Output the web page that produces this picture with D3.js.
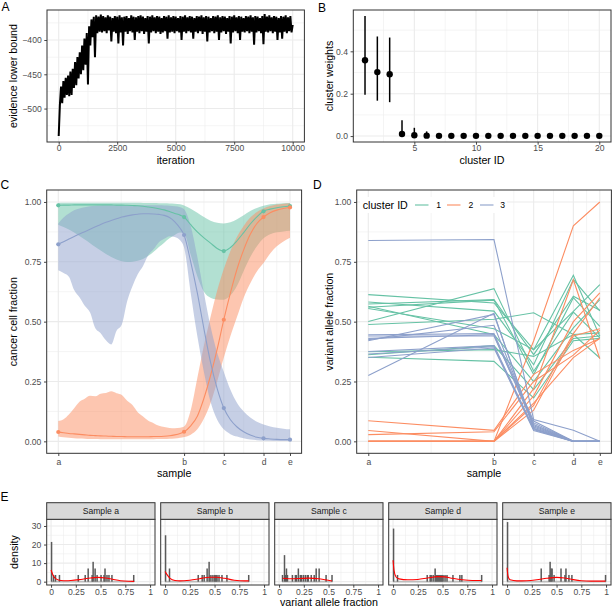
<!DOCTYPE html>
<html lang="en">
<head>
<meta charset="UTF-8">
<title>Clonal evolution model</title>
<style>
  body { margin: 0; background: #fff; }
</style>
</head>
<body>
<div id="fig"></div>
<script src="https://d3js.org/d3.v7.min.js"></script>
<script>
// ---------------- data ----------------
// A: evidence lower bound, one value every 50 iterations
var elboStep = 50;
var elbo = [-540,-495,-468,-492,-460,-484,-455,-480,-452,-482,-446,-480,-442,-470,-432,-466,-425,-456,-418,-450,
  -408,-444,-398,-436,-390,-465,-380,-408,-370,-396,-366,-425,-364,-390,-366,-388,-363,-389,-365,-387,
  -367,-390,-364,-386,-366,-402,-368,-388,-365,-390,-366,-405,-364,-389,-367,-408,-366,-388,-365,-391,
  -368,-387,-364,-389,-366,-400,-367,-388,-365,-390,-364,-387,-366,-391,-368,-388,-365,-405,-366,-389,
  -364,-387,-367,-390,-365,-388,-366,-391,-368,-389,-365,-387,-366,-398,-364,-389,-367,-388,-365,-390,
  -366,-387,-368,-389,-365,-400,-366,-388,-364,-390,-367,-387,-365,-389,-366,-398,-368,-388,-365,-390,
  -366,-387,-364,-391,-367,-388,-365,-402,-366,-389,-368,-387,-365,-390,-366,-388,-364,-400,-367,-389,
  -365,-387,-366,-391,-368,-388,-365,-405,-366,-389,-364,-387,-367,-390,-365,-400,-366,-388,-368,-389,
  -365,-387,-366,-390,-364,-388,-367,-407,-365,-389,-366,-387,-368,-390,-365,-406,-362,-388,-366,-389,
  -364,-387,-367,-390,-365,-388,-366,-400,-368,-389,-365,-398,-366,-388,-364,-390,-367,-387,-365,-389,-378];

// B: cluster weights
var clusterIds = [1,2,3,4,5,6,7,8,9,10,11,12,13,14,15,16,17,18,19,20];
var weightMean = [0.358,0.302,0.292,0.010,0.004,0.002,0.001,0.001,0.001,0.001,0.001,0.001,0.001,0.001,0.001,0.001,0.001,0.001,0.001,0.001];
var weightLo   = [0.195,0.167,0.160,0.000,0.000,0.000,0.000,0.000,0.000,0.000,0.000,0.000,0.000,0.000,0.000,0.000,0.000,0.000,0.000,0.000];
var weightHi   = [0.567,0.470,0.465,0.075,0.039,0.022,0.006,0.005,0.005,0.005,0.005,0.005,0.005,0.005,0.005,0.005,0.005,0.005,0.005,0.005];

// C / D: samples
var sampleNames = ["a","b","c","d","e"];
var sampleTimes = [0,95,125,155,175];
var clusterColors = ["#66C2A5","#FC8D62","#8DA0CB"];

var cfGrid = [0,4,8,12,16,20,24,28,32,36,40,44,48,52,56,60,64,68,72,76,80,84,88,92,95,100,105,110,115,120,125,130,135,140,145,150,155,160,165,170,175];
var cfMean1 = [.986,.987,.987,.988,.988,.988,.988,.988,.988,.988,.988,.987,.987,.986,.985,.984,.982,.979,.976,.972,.967,.960,.952,.945,.937,.905,.875,.850,.828,.806,.795,.810,.838,.872,.908,.938,.961,.970,.976,.980,.983];
var cfHi1   = [.996,.997,.997,.997,.997,.997,.997,.997,.997,.997,.997,.997,.997,.997,.997,.997,.996,.996,.996,.995,.995,.994,.993,.990,.985,.972,.955,.937,.922,.913,.910,.915,.928,.945,.962,.975,.984,.990,.993,.995,.996];
var cfLo1   = [.905,.895,.885,.872,.858,.843,.828,.812,.797,.783,.770,.760,.752,.749,.750,.754,.762,.775,.792,.812,.830,.848,.862,.872,.868,.780,.690,.625,.600,.593,.592,.610,.650,.712,.770,.815,.848,.865,.873,.877,.880];
var cfMean2 = [.039,.036,.033,.031,.029,.027,.025,.024,.023,.022,.021,.020,.020,.019,.019,.019,.019,.019,.020,.020,.021,.023,.027,.033,.040,.065,.105,.180,.275,.385,.508,.620,.720,.800,.865,.910,.937,.955,.966,.973,.977];
var cfHi2   = [.085,.092,.112,.138,.165,.178,.190,.188,.199,.202,.209,.201,.194,.170,.152,.122,.104,.086,.076,.065,.060,.056,.055,.057,.062,.130,.265,.400,.520,.630,.720,.795,.855,.900,.935,.958,.973,.983,.989,.993,.995];
var cfLo2   = [.020,.017,.015,.013,.012,.011,.010,.010,.009,.009,.009,.009,.009,.009,.009,.009,.009,.009,.009,.010,.010,.011,.012,.015,.018,.028,.050,.095,.160,.250,.350,.440,.520,.600,.660,.710,.745,.785,.815,.835,.850];
var cfMean3 = [.823,.834,.845,.856,.866,.876,.886,.896,.906,.915,.923,.930,.937,.942,.946,.949,.951,.951,.950,.948,.944,.935,.917,.890,.862,.750,.620,.470,.330,.220,.139,.090,.060,.040,.026,.017,.0125,.010,.008,.007,.007];
var cfHi3   = [.910,.935,.952,.965,.973,.978,.982,.984,.985,.986,.986,.986,.986,.986,.986,.986,.986,.986,.986,.986,.985,.984,.982,.978,.970,.900,.770,.620,.480,.370,.290,.215,.160,.125,.100,.082,.070,.062,.057,.053,.050];
var cfLo3   = [.715,.703,.688,.632,.602,.566,.538,.472,.452,.422,.405,.462,.488,.585,.648,.698,.733,.778,.803,.832,.846,.857,.854,.840,.810,.620,.440,.290,.165,.090,.050,.030,.020,.013,.008,.005,.003,.002,.001,.001,.001];
var cfPts1 = [.986,.937,.795,.961,.983];
var cfPts2 = [.039,.040,.508,.937,.977];
var cfPts3 = [.823,.862,.139,.0125,.007];

// D: variant allele fraction per mutation (samples a..e)
var vaf1 = [
  [.613,.578,.383,.543,.655],
  [.582,.544,.320,.676,.545],
  [.574,.592,.362,.606,.548],
  [.564,.446,.250,.474,.592],
  [.555,.470,.383,.694,.439],
  [.501,.638,.293,.540,.432],
  [.488,.510,.537,.446,.348],
  [.374,.383,.355,.446,.453],
  [.362,.400,.216,.430,.440],
  [.351,.334,.181,.420,.430],
  [.560,.590,.279,.600,.480]
];
var vaf2 = [
  [.086,.046,.280,.380,.430],
  [.045,.000,.420,.900,1.00],
  [.028,.040,.250,.360,.465],
  [.000,.000,.220,.675,.345],
  [.000,.000,.190,.500,.620],
  [.000,.000,.150,.450,.600],
  [.000,.000,.130,.440,.470],
  [.000,.000,.160,.350,.430]
];
var vaf3 = [
  [.839,.843,.091,.046,.000],
  [.445,.450,.085,.000,.000],
  [.440,.440,.077,.000,.000],
  [.425,.485,.070,.000,.000],
  [.420,.530,.060,.000,.000],
  [.375,.400,.055,.000,.000],
  [.365,.395,.049,.000,.000],
  [.350,.390,.045,.000,.000],
  [.275,.535,.052,.000,.000],
  [.430,.445,.065,.000,.000]
];

// E: VAF histograms [bin centre, density] and fitted density [vaf, density]
var facetLabels = ["Sample a","Sample b","Sample c","Sample d","Sample e"];
var histA = [[.005,21.4],[.025,3.6],[.045,3.6],[.085,3.6],[.275,3.6],[.345,3.6],[.375,7.1],[.415,3.6],[.425,10.7],[.445,7.1],[.465,3.6],[.505,3.6],[.535,3.6],[.545,7.1],[.565,3.6],[.585,3.6],[.615,3.6],[.835,3.6]];
var histB = [[.005,25.0],[.045,7.1],[.335,3.6],[.375,3.6],[.395,3.6],[.425,7.1],[.445,10.7],[.455,3.6],[.475,3.6],[.495,3.6],[.505,3.6],[.515,3.6],[.525,3.6],[.545,3.6],[.575,3.6],[.625,3.6],[.845,3.6]];
var histC = [[.035,3.6],[.055,14.3],[.065,3.6],[.075,7.1],[.085,3.6],[.135,3.6],[.165,3.6],[.175,3.6],[.195,7.1],[.215,3.6],[.225,3.6],[.245,3.6],[.265,3.6],[.285,3.6],[.295,3.6],[.325,3.6],[.355,3.6],[.375,7.1],[.405,7.1],[.475,3.6],[.535,3.6]];
var histD = [[.005,28.6],[.045,3.6],[.345,3.6],[.375,3.6],[.385,3.6],[.405,3.6],[.425,7.1],[.435,3.6],[.445,3.6],[.455,3.6],[.465,3.6],[.475,3.6],[.485,3.6],[.495,3.6],[.505,3.6],[.525,3.6],[.545,3.6],[.605,3.6],[.675,3.6],[.695,3.6],[.895,3.6]];
var histE = [[.005,32.1],[.345,7.1],[.425,3.6],[.435,10.7],[.445,7.1],[.455,7.1],[.475,3.6],[.545,7.1],[.585,3.6],[.595,7.1],[.625,3.6],[.655,3.6],[.995,3.6]];
var densA = [[0,6.3],[.02,3.5],[.05,1.5],[.1,.6],[.15,.5],[.2,.6],[.3,1.2],[.4,2.0],[.47,2.3],[.55,2.0],[.62,1.3],[.7,.5],[.78,.2],[.84,.15]];
var densB = [[0,5.5],[.02,3.8],[.05,1.8],[.1,.6],[.15,.4],[.25,.8],[.35,1.6],[.45,2.4],[.52,2.4],[.6,1.8],[.7,.8],[.8,.4],[.845,.4]];
var densC = [[.035,1.8],[.1,1.6],[.2,1.7],[.3,1.9],[.4,1.6],[.47,1.0],[.535,.4]];
var densD = [[0,11.5],[.01,6.0],[.03,2.5],[.06,1.5],[.15,1.0],[.25,1.2],[.35,2.0],[.45,2.7],[.52,2.6],[.6,1.8],[.7,1.0],[.8,.6],[.895,.6]];
var densE = [[0,7.5],[.01,3.0],[.03,1.0],[.1,.4],[.2,.5],[.3,1.0],[.4,1.8],[.5,2.3],[.58,2.0],[.65,1.3],[.75,.5],[.85,.3],[.95,.3],[.995,.3]];

// ---------------- helpers ----------------
var FONT = '"Liberation Sans", Arial, Helvetica, sans-serif';
var GRID = "#ebebeb", INK = "#333333", TICKTXT = "#4d4d4d";
var TICK_FS = 8.6, TITLE_FS = 10.7;

var svg = d3.select("#fig").append("svg")
  .attr("width", 612).attr("height", 609)
  .style("font-family", FONT);

function frame(x, y, xMaj, xMin, yMaj, yMin) {
  var g = svg.append("g");
  var x0 = x.range()[0], x1 = x.range()[1], y0 = y.range()[1], y1 = y.range()[0];
  g.append("rect").attr("x", x0).attr("y", y0)
    .attr("width", x1 - x0).attr("height", y1 - y0).attr("fill", "#fff");
  function vl(vals, w) {
    g.selectAll(null).data(vals).enter().append("line")
      .attr("x1", function(d) { return x(d); }).attr("x2", function(d) { return x(d); })
      .attr("y1", y0).attr("y2", y1).attr("stroke", GRID).attr("stroke-width", w);
  }
  function hl(vals, w) {
    g.selectAll(null).data(vals).enter().append("line")
      .attr("y1", function(d) { return y(d); }).attr("y2", function(d) { return y(d); })
      .attr("x1", x0).attr("x2", x1).attr("stroke", GRID).attr("stroke-width", w);
  }
  vl(xMin, 0.55); hl(yMin, 0.55); vl(xMaj, 1.1); hl(yMaj, 1.1);
  return g;
}

function border(x, y) {
  var x0 = x.range()[0], x1 = x.range()[1], y0 = y.range()[1], y1 = y.range()[0];
  svg.append("rect").attr("x", x0).attr("y", y0)
    .attr("width", x1 - x0).attr("height", y1 - y0)
    .attr("fill", "none").attr("stroke", INK).attr("stroke-width", 1);
}

function styleAxis(ax) {
  ax.select(".domain").remove();
  ax.attr("font-family", FONT).attr("font-size", TICK_FS);
  ax.selectAll("line").attr("stroke", INK).attr("stroke-width", 0.9);
  ax.selectAll("text").attr("fill", TICKTXT);
}

function axisB(x, y, vals, fmt, pad) {
  var ax = svg.append("g").attr("transform", "translate(0," + y.range()[0] + ")")
    .call(d3.axisBottom(x).tickValues(vals).tickFormat(fmt).tickSize(2.7).tickPadding(pad));
  styleAxis(ax);
}

function axisL(x, y, vals, fmt) {
  var ax = svg.append("g").attr("transform", "translate(" + x.range()[0] + ",0)")
    .call(d3.axisLeft(y).tickValues(vals).tickFormat(fmt).tickSize(2.7).tickPadding(2.6));
  styleAxis(ax);
}

function text(str, x, y, size, anchor, rot) {
  var t = svg.append("text").attr("x", x).attr("y", y)
    .attr("font-size", size).attr("text-anchor", anchor || "start").attr("fill", "#000").text(str);
  if (rot) t.attr("transform", "rotate(-90," + x + "," + y + ")");
  return t;
}

// ---------------- A: ELBO trace ----------------
var xA = d3.scaleLinear().domain([-500, 10500]).range([47, 304.4]);
var yA = d3.scaleLinear().domain([-548.75, -356.25]).range([142, 10]);
var gA = frame(xA, yA, [0,2500,5000,7500,10000], [1250,3750,6250,8750], [-500,-450,-400], [-525,-475,-425,-375]);
gA.append("path").datum(elbo)
  .attr("d", d3.line().x(function(d, i) { return xA(i * elboStep); }).y(function(d) { return yA(d); }))
  .attr("fill", "none").attr("stroke", "#000").attr("stroke-width", 2)
  .attr("stroke-linejoin", "bevel");
border(xA, yA);
axisB(xA, yA, [0,2500,5000,7500,10000], d3.format("d"), 0);
axisL(xA, yA, [-500,-450,-400], function(d) { return "\u2212" + Math.abs(d); });
text("iteration", 175.7, 163.5, TITLE_FS, "middle");
text("evidence lower bound", 17, 76, TITLE_FS, "middle", true);
text("A", 1.5, 11, 12);

// ---------------- B: cluster weights ----------------
var xB = d3.scaleLinear().domain([0.05, 20.95]).range([353.3, 611]);
var yB = d3.scaleLinear().domain([-0.028, 0.595]).range([142, 10]);
var gB = frame(xB, yB, [5,10,15,20], [2.5,7.5,12.5,17.5], [0,0.2,0.4], [0.1,0.3,0.5]);
gB.selectAll(null).data(clusterIds).enter().append("line")
  .attr("x1", function(d) { return xB(d); }).attr("x2", function(d) { return xB(d); })
  .attr("y1", function(d, i) { return yB(weightLo[i]); })
  .attr("y2", function(d, i) { return yB(weightHi[i]); })
  .attr("stroke", "#000").attr("stroke-width", 1.5);
gB.selectAll(null).data(clusterIds).enter().append("circle")
  .attr("cx", function(d) { return xB(d); })
  .attr("cy", function(d, i) { return yB(weightMean[i]); })
  .attr("r", 3.2).attr("fill", "#000");
border(xB, yB);
axisB(xB, yB, [5,10,15,20], d3.format("d"), 0);
axisL(xB, yB, [0,0.2,0.4], d3.format(".1f"));
text("cluster ID", 482, 163.5, TITLE_FS, "middle");
text("cluster weights", 333, 76, TITLE_FS, "middle", true);
text("B", 318, 11.5, 12);

// ---------------- C: cancer cell fraction ----------------
var xC = d3.scaleLinear().domain([-8.75, 183.75]).range([46.7, 301.6]);
var yC = d3.scaleLinear().domain([-0.05, 1.05]).range([453.3, 190]);
var tMinor = [47.5, 110, 140, 165];
var gC = frame(xC, yC, sampleTimes, tMinor, [0,0.25,0.5,0.75,1], [0.125,0.375,0.625,0.875]);
var cfSets = [[cfMean1, cfLo1, cfHi1, cfPts1], [cfMean2, cfLo2, cfHi2, cfPts2], [cfMean3, cfLo3, cfHi3, cfPts3]];
cfSets.forEach(function(s, k) {
  gC.append("path").datum(cfGrid)
    .attr("d", d3.area().curve(d3.curveMonotoneX)
      .x(function(d) { return xC(d); })
      .y0(function(d, i) { return yC(s[1][i]); })
      .y1(function(d, i) { return yC(s[2][i]); }))
    .attr("fill", clusterColors[k]).attr("fill-opacity", 0.5);
});
cfSets.forEach(function(s, k) {
  gC.append("path").datum(cfGrid)
    .attr("d", d3.line().curve(d3.curveMonotoneX)
      .x(function(d) { return xC(d); })
      .y(function(d, i) { return yC(s[0][i]); }))
    .attr("fill", "none").attr("stroke", clusterColors[k]).attr("stroke-width", 1.1);
  gC.selectAll(null).data(sampleTimes).enter().append("circle")
    .attr("cx", function(d) { return xC(d); })
    .attr("cy", function(d, i) { return yC(s[3][i]); })
    .attr("r", 2.1).attr("fill", clusterColors[k]);
});
border(xC, yC);
axisB(xC, yC, sampleTimes, function(d, i) { return sampleNames[i]; }, 3.2);
axisL(xC, yC, [0,0.25,0.5,0.75,1], d3.format(".2f"));
text("sample", 174.2, 477, TITLE_FS, "middle");
text("cancer cell fraction", 17.5, 321.7, TITLE_FS, "middle", true);
text("C", 0.5, 189, 12);

// ---------------- D: variant allele fraction ----------------
var xD = d3.scaleLinear().domain([-8.75, 183.75]).range([356.7, 611.4]);
var yD = d3.scaleLinear().domain([-0.05, 1.05]).range([453.3, 190]);
var gD = frame(xD, yD, sampleTimes, tMinor, [0,0.25,0.5,0.75,1], [0.125,0.375,0.625,0.875]);
var vafLine = d3.line().x(function(d, i) { return xD(sampleTimes[i]); }).y(function(d) { return yD(d); });
[vaf1, vaf2, vaf3].forEach(function(set, k) {
  gD.selectAll(null).data(set).enter().append("path")
    .attr("d", vafLine).attr("fill", "none")
    .attr("stroke", clusterColors[k]).attr("stroke-width", 1.1);
});
// legend
var lg = svg.append("g");
lg.append("rect").attr("x", 360).attr("y", 197).attr("width", 147).attr("height", 16).attr("fill", "#fff");
lg.append("text").attr("x", 362.7).attr("y", 209).attr("font-size", TITLE_FS).text("cluster ID");
var keyX = [415, 447, 480], keyLabX = [436.2, 468.4, 500.2];
clusterColors.forEach(function(c, k) {
  lg.append("line").attr("x1", keyX[k]).attr("x2", keyX[k] + 13.5)
    .attr("y1", 205).attr("y2", 205).attr("stroke", c).attr("stroke-width", 1.1);
  lg.append("text").attr("x", keyLabX[k]).attr("y", 208.2).attr("font-size", TICK_FS)
    .attr("fill", "#000").text(String(k + 1));
});
border(xD, yD);
axisB(xD, yD, sampleTimes, function(d, i) { return sampleNames[i]; }, 3.2);
axisL(xD, yD, [0,0.25,0.5,0.75,1], d3.format(".2f"));
text("sample", 484, 477, TITLE_FS, "middle");
text("variant allele fraction", 333, 321.7, TITLE_FS, "middle", true);
text("D", 313, 189, 12);

// ---------------- E: VAF histograms per sample ----------------
var hists = [histA, histB, histC, histD, histE];
var dens = [densA, densB, densC, densD, densE];
var facetLeft = [46.7, 160.7, 274.7, 388.7, 502.7];
var facetW = 108.3;
var yE = d3.scaleLinear().domain([-1.8, 33.6]).range([585, 519.3]);
var vafTicks = [0, 0.25, 0.5, 0.75, 1];
var vafFmt = function(d) { return d === 0 ? "0" : d === 1 ? "1" : String(d); };
facetLabels.forEach(function(lab, k) {
  var xE = d3.scaleLinear().domain([-0.044, 1.05]).range([facetLeft[k], facetLeft[k] + facetW]);
  var gE = frame(xE, yE, vafTicks, [0.125,0.375,0.625,0.875], [0,10,20,30], [5,15,25]);
  var h = hists[k];
  gE.append("line")
    .attr("x1", xE(h[0][0] - 0.005)).attr("x2", xE(h[h.length - 1][0] + 0.005))
    .attr("y1", yE(0)).attr("y2", yE(0))
    .attr("stroke", "#bdbdbd").attr("stroke-width", 1.6);
  gE.selectAll(null).data(h).enter().append("rect")
    .attr("x", function(d) { return xE(d[0]) - 0.75; })
    .attr("width", 1.5)
    .attr("y", function(d) { return yE(d[1]); })
    .attr("height", function(d) { return yE(0) - yE(d[1]); })
    .attr("fill", "#5a5a5a");
  gE.append("path").datum(dens[k])
    .attr("d", d3.line().curve(d3.curveMonotoneX)
      .x(function(d) { return xE(d[0]); }).y(function(d) { return yE(d[1]); }))
    .attr("fill", "none").attr("stroke", "#ff0000").attr("stroke-width", 1.1);
  border(xE, yE);
  // strip
  svg.append("rect").attr("x", facetLeft[k]).attr("y", 502.7)
    .attr("width", facetW).attr("height", 16.6)
    .attr("fill", "#d9d9d9").attr("stroke", INK).attr("stroke-width", 1);
  svg.append("text").attr("x", facetLeft[k] + facetW / 2).attr("y", 514.2)
    .attr("text-anchor", "middle").attr("font-size", TICK_FS).attr("fill", "#1a1a1a").text(lab);
  axisB(xE, yE, vafTicks, vafFmt, 0.8);
  if (k === 0) axisL(xE, yE, [0,10,20,30], d3.format("d"));
});
text("variant allele fraction", 329, 606, TITLE_FS, "middle");
text("density", 17.5, 552, TITLE_FS, "middle", true);
text("E", 0.5, 501, 12);
</script>
</body>
</html>
